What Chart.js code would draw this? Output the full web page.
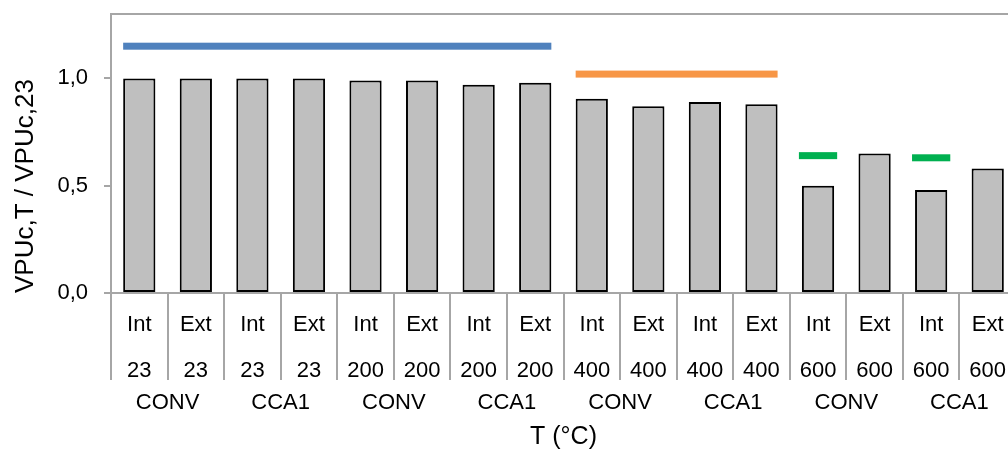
<!DOCTYPE html>
<html>
<head>
<meta charset="utf-8">
<script src="https://cdn.jsdelivr.net/npm/chart.js@4.4.1/dist/chart.umd.min.js"></script>
<style>
  html, body { margin: 0; padding: 0; background: #fff; overflow: hidden; }
  #wrap { width: 1016px; height: 450px; }
</style>
</head>
<body>
<div id="wrap"><canvas id="vpuChart"></canvas></div>
<script>
// Columns: face (Int/Ext), temperature, and mix (one mix label per pair)
const faces = ['Int', 'Ext', 'Int', 'Ext', 'Int', 'Ext', 'Int', 'Ext',
               'Int', 'Ext', 'Int', 'Ext', 'Int', 'Ext', 'Int', 'Ext'];
const temps = ['23', '23', '23', '23', '200', '200', '200', '200',
               '400', '400', '400', '400', '600', '600', '600', '600'];
const mixes = ['CONV', 'CCA1', 'CONV', 'CCA1', 'CONV', 'CCA1', 'CONV', 'CCA1'];

// VPUc,T / VPUc,23 for each column
const ratios = [1.00, 1.00, 1.00, 1.00, 0.99, 0.99, 0.97, 0.98,
                0.905, 0.87, 0.89, 0.88, 0.50, 0.65, 0.48, 0.58];

const yTicks = [0, 0.5, 1.0];

// Reference bands drawn above groups of columns (first column, last column, level)
const bandFrom = [0, 8, 12, 14];
const bandTo = [7, 11, 12, 14];
const bandLevel = [1.15, 1.02, 0.64, 0.63];
const bandColors = ['#4F81BD', '#F79646', '#00B050', '#00B050'];

const axisGrey = '#A6A6A6';
Chart.defaults.font.family = "'Liberation Sans', Arial, sans-serif";
Chart.defaults.color = '#000';

// thick horizontal bands spanning the bars of each group
const bandPlugin = {
  id: 'bands',
  afterDatasetsDraw(chart) {
    const ctx = chart.ctx;
    const y = chart.scales.y;
    const bars = chart.getDatasetMeta(0).data;
    ctx.save();
    bandLevel.forEach((lvl, k) => {
      const a = bars[bandFrom[k]];
      const b = bars[bandTo[k]];
      const pad = bandFrom[k] === bandTo[k] ? 3 : 0;
      const x0 = a.x - a.width / 2 - pad;
      const x1 = b.x + b.width / 2 + pad;
      ctx.fillStyle = bandColors[k];
      ctx.fillRect(x0, y.getPixelForValue(lvl) - 3.5, x1 - x0, 7);
    });
    ctx.restore();
  }
};

// top edge of the plot frame
const framePlugin = {
  id: 'frame',
  beforeDatasetsDraw(chart) {
    const {ctx, chartArea: a} = chart;
    ctx.save();
    ctx.strokeStyle = axisGrey;
    ctx.lineWidth = 2;
    ctx.beginPath();
    ctx.moveTo(a.left, a.top);
    ctx.lineTo(a.right, a.top);
    ctx.stroke();
    ctx.restore();
  }
};

new Chart(document.getElementById('vpuChart'), {
  type: 'bar',
  data: {
    labels: faces.map((f, i) => [f, temps[i]]),
    datasets: [{
      data: ratios,
      backgroundColor: '#BFBFBF',
      borderColor: '#000',
      borderWidth: 2,
      borderSkipped: false,
      categoryPercentage: 1,
      barPercentage: 0.57
    }]
  },
  plugins: [framePlugin, bandPlugin],
  options: {
    responsive: true,
    maintainAspectRatio: false,
    animation: false,
    layout: { padding: { top: 14, left: 0, right: 0, bottom: 0 } },
    plugins: {
      legend: { display: false },
      tooltip: { enabled: false }
    },
    scales: {
      x: {
        type: 'category',
        position: 'bottom',
        weight: 0,
        offset: true,
        grid: {
          display: true, offset: true, drawOnChartArea: false,
          drawTicks: true, tickLength: 87, color: axisGrey, lineWidth: 2
        },
        border: { display: true, color: axisGrey, width: 2 },
        ticks: {
          padding: -78, maxRotation: 0, autoSkip: false,
          font: { size: 22, lineHeight: 46 / 22 }
        },
        afterFit: s => { s.height = 85; }
      },
      x2: {
        type: 'category',
        labels: mixes,
        position: 'bottom',
        weight: 1,
        offset: true,
        grid: { display: false, drawTicks: false },
        border: { display: false },
        ticks: { padding: 12, maxRotation: 0, autoSkip: false, font: { size: 22 } },
        title: {
          display: true, text: 'T (°C)', padding: 0,
          font: { size: 25, lineHeight: 1 }
        },
        afterFit: s => { s.height = 72; }
      },
      y: {
        min: 0,
        max: 1.3,
        afterBuildTicks: s => { s.ticks = yTicks.map(v => ({ value: v })); },
        afterFit: s => {
          s.width = 111;
          s.paddingTop = 0;
          s.paddingBottom = 0;
        },
        grid: {
          drawOnChartArea: false, drawTicks: true, tickLength: 7,
          color: axisGrey, lineWidth: 2
        },
        border: { color: axisGrey, width: 2 },
        ticks: {
          padding: 16,
          font: { size: 22 },
          callback: v => v.toFixed(1).replace('.', ',')
        },
        title: {
          display: true, text: 'VPUc,T / VPUc,23', align: 'start',
          padding: { top: 10 },
          font: { size: 26 }
        }
      }
    }
  }
});
</script>
</body>
</html>
